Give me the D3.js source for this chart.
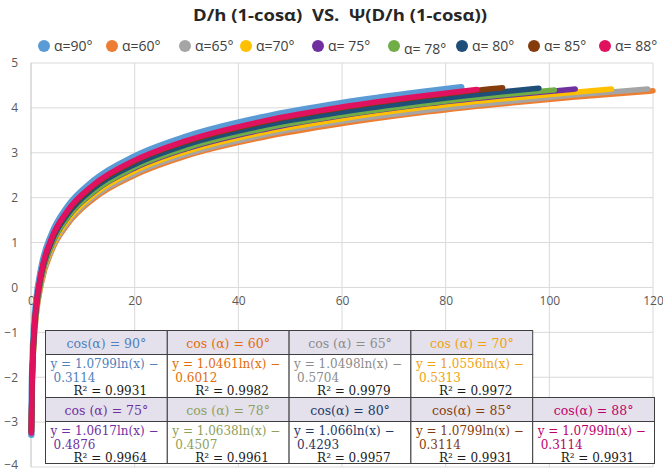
<!DOCTYPE html>
<html><head><meta charset="utf-8">
<script src="https://cdn.jsdelivr.net/npm/d3@7"></script>
<style>body{margin:0;background:#fff}svg{display:block}</style>
</head><body><svg id="c" width="663" height="473"></svg>
<script>
// ---------- data ----------
const titleText = "D/h (1-cosα)  VS.  Ψ(D/h (1-cosα))";
const seriesNames = ["α=90°","α=60°","α=65°","α=70°","α= 75°","α= 78°","α= 80°","α= 85°","α= 88°"];
const seriesColors = ["#5B9BD5","#ED7D31","#A5A5A5","#FFC000","#7030A0","#70AD47","#1F4E79","#843C0C","#E0115F"];
const xTicks = [0,20,40,60,80,100,120];
const yTicks = [-4,-3,-2,-1,0,1,2,3,4,5];
const xGrid = [0.15,0.3,0.6,1,2,4,7,12,20,30,45,60,75,90,105];
const xStart = 0.07;
const yStart = [-3.28,-3.2,-3.2,-3.2,-3.22,-3.2,-3.2,-3.22,-3.24];
const xEnd = [83,120,119,112,105,101,98,91,86];
const yEnd = [4.46,4.38,4.42,4.42,4.42,4.40,4.44,4.45,4.41];
const y90 = [-2.36,-1.61,-0.86,-0.31,0.44,1.19,1.79,2.37,2.92,3.36,3.80,4.11,4.35];
const y60 = [-2.62,-1.89,-1.17,-0.63,0.09,0.82,1.40,1.97,2.50,2.93,3.35,3.65,3.89,4.08,4.24];
const y65 = [-2.59,-1.86,-1.14,-0.60,0.13,0.85,1.44,2.01,2.54,2.97,3.40,3.70,3.93,4.12,4.29];
const y70 = [-2.56,-1.83,-1.10,-0.56,0.17,0.90,1.49,2.06,2.60,3.03,3.46,3.76,4.00,4.19,4.35];
const y75 = [-2.53,-1.80,-1.06,-0.52,0.22,0.95,1.55,2.12,2.66,3.09,3.52,3.83,4.07,4.26];
const y78 = [-2.53,-1.79,-1.05,-0.51,0.23,0.96,1.56,2.13,2.68,3.11,3.54,3.84,4.08,4.28];
const y80 = [-2.47,-1.73,-0.99,-0.45,0.29,1.03,1.62,2.20,2.74,3.18,3.61,3.91,4.15,4.35];
const y85 = [-2.47,-1.72,-0.97,-0.42,0.33,1.08,1.68,2.26,2.81,3.25,3.69,4.00,4.24,4.44];
const y88 = [-2.45,-1.70,-0.95,-0.40,0.35,1.10,1.70,2.28,2.83,3.27,3.71,4.02,4.26];
const seriesY = [y90,y60,y65,y70,y75,y78,y80,y85,y88];

const tableHeaders = ["cos(α) = 90°","cos (α) = 60°","cos (α) = 65°","cos (α) = 70°","cos (α) = 75°","cos (α) = 78°","cos(α) = 80°","cos(α) = 85°","cos(α) = 88°"];
const slopes = ["1.0799","1.0461","1.0498","1.0556","1.0617","1.0638","1.066","1.0799","1.0799"];
const intercepts = ["0.3114","0.6012","0.5704","0.5313","0.4876","0.4507","0.4293","0.3114","0.3114"];
const rSquared = ["0.9931","0.9982","0.9979","0.9972","0.9964","0.9961","0.9957","0.9931","0.9931"];
const tableColors = ["#4F81BD","#E46C0A","#8C8C8C","#F0A30A","#7030A0","#8EA05A","#1F3864","#843C0C","#C0006A"];

// ---------- drawing ----------
const svg = d3.select("#c");
const L = 31, R = 653, T = 63, B = 467;
const x = d3.scaleLinear().domain([0,120]).range([L,R]);
const y = d3.scaleLinear().domain([-4,5]).range([B,T]);

// title
svg.append("text").attr("x",340).attr("y",21).attr("text-anchor","middle")
  .attr("font-family","'Open Sans', sans-serif").attr("font-weight","bold").attr("font-size",16)
  .attr("fill","#262626").attr("textLength",294).attr("lengthAdjust","spacingAndGlyphs")
  .style("white-space","pre").text(titleText);

// gridlines
const g = svg.append("g");
g.selectAll("line.h").data(yTicks).join("line")
  .attr("x1",L).attr("x2",R).attr("y1",d=>y(d)).attr("y2",d=>y(d))
  .attr("stroke","#D9D9D9").attr("stroke-width",1);
g.selectAll("line.v").data(xTicks).join("line")
  .attr("y1",T).attr("y2",B).attr("x1",d=>x(d)).attr("x2",d=>x(d))
  .attr("stroke",d=>d===0?"#BFBFBF":"#D9D9D9").attr("stroke-width",1);

// y axis labels
const yAxis = d3.axisLeft(y).tickValues(yTicks).tickSize(0).tickPadding(13);
const ya = svg.append("g").attr("transform",`translate(${L},0)`).call(yAxis);
ya.select(".domain").remove();
ya.selectAll("text").attr("font-family","'Open Sans', sans-serif").attr("font-size",12).attr("fill","#595959");
ya.selectAll("text").filter(d=>d===-4).attr("dy","0.1em");

// x axis labels at y=0
const xAxis = d3.axisBottom(x).tickValues(xTicks).tickSize(0).tickPadding(9);
const xa = svg.append("g").attr("transform",`translate(0,${y(0)})`).call(xAxis);
xa.select(".domain").remove();
xa.selectAll("text").attr("font-family","'Open Sans', sans-serif").attr("font-size",12).attr("fill","#595959");

// legend
const legendX = [44,112,185,246,318,394,462,534,605];
const lg = svg.append("g");
seriesNames.forEach((n,i)=>{
  lg.append("circle").attr("cx",legendX[i]).attr("cy",46).attr("r",6).attr("fill",seriesColors[i]);
  lg.append("text").attr("x",legendX[i]+10).attr("y",i===5?54:51)
    .attr("font-family","'Open Sans', sans-serif").attr("font-size",14).attr("fill","#404040")
    .style("white-space","pre").text(n);
});

// curves (drawn in series order, later ones on top)
svg.append("clipPath").attr("id","pc").append("rect").attr("x",L-6).attr("y",T-8).attr("width",R-L+14).attr("height",B-T+8);
const line = d3.line().x(d=>x(d[0])).y(d=>y(d[1])).curve(d3.curveMonotoneX);
const cg = svg.append("g").attr("clip-path","url(#pc)");
seriesY.forEach((ys,i)=>{
  const pts = [[xStart,yStart[i]]].concat(ys.map((v,j)=>[xGrid[j],v])).concat([[xEnd[i],yEnd[i]]]);
  cg.append("path").attr("d",line(pts)).attr("fill","none").attr("stroke",seriesColors[i])
    .attr("stroke-width",i===0?6.5:5.5).attr("stroke-linecap","round").attr("stroke-linejoin","round");
});

// table
const tLeft = 45.5, colW = 121.8;
const rowTop = [330.5, 397.5], headH = 24, bodyH = [43, 42];
const tg = svg.append("g");
tableHeaders.forEach((h,i)=>{
  const r = i<4?0:1, c = i<4?i:i-4;
  const cx = tLeft + c*colW, top = rowTop[r];
  tg.append("rect").attr("x",cx).attr("y",top).attr("width",colW).attr("height",headH)
    .attr("fill","#E4E0EC").attr("stroke","#3F3F3F").attr("stroke-width",1);
  tg.append("rect").attr("x",cx).attr("y",top+headH).attr("width",colW).attr("height",bodyH[r])
    .attr("fill","#fff").attr("stroke","#3F3F3F").attr("stroke-width",1);
  const font = "'DejaVu Serif', serif";
  tg.append("text").attr("x",cx+colW/2).attr("y",top+17).attr("text-anchor","middle")
    .attr("font-family",font).attr("font-size",12.5).attr("fill",tableColors[i]).style("white-space","pre").text(h);
  tg.append("text").attr("x",cx+5).attr("y",top+headH+13)
    .attr("font-family",font).attr("font-size",12).attr("fill",tableColors[i]).style("white-space","pre")
    .text(`y = ${slopes[i]}ln(x) −`);
  tg.append("text").attr("x",cx+8).attr("y",top+headH+27)
    .attr("font-family",font).attr("font-size",12).attr("fill",tableColors[i]).text(intercepts[i]);
  tg.append("text").attr("x",cx+28).attr("y",top+headH+40)
    .attr("font-family",font).attr("font-size",12).attr("fill","#1a1a1a").style("white-space","pre")
    .text(`R² = ${rSquared[i]}`);
});
</script></body></html>
